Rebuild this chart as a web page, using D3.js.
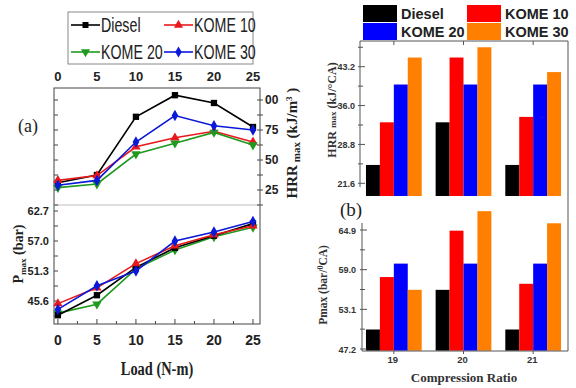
<!DOCTYPE html>
<html>
<head>
<meta charset="utf-8">
<script src="https://cdn.jsdelivr.net/npm/d3@7"></script>
<style>
  body { margin: 0; background: #fff; }
  svg { display: block; }
</style>
</head>
<body>
<div id="chart"></div>
<script>
// ---- data ----
var loads = [0, 5, 10, 15, 20, 25];
var seriesNames = ["Diesel", "KOME 10", "KOME 20", "KOME 30"];

var hrrDiesel = [31, 37.5, 86, 104, 97.5, 77.5];
var hrrKome10 = [33, 37, 61, 68.5, 74, 65];
var hrrKome20 = [27, 30, 55, 64, 73, 62.5];
var hrrKome30 = [29, 33, 65, 87, 78.5, 75];

var pmaxDiesel = [42.9, 46.7, 52.0, 55.7, 58.0, 60.3];
var pmaxKome10 = [45.1, 48.1, 52.7, 56.1, 58.2, 59.9];
var pmaxKome20 = [43.3, 45.0, 51.7, 55.3, 57.8, 59.6];
var pmaxKome30 = [44.0, 48.5, 51.3, 57.0, 58.7, 60.7];

var ratios = ["19", "20", "21"];
var hrrBarDiesel = [25.0, 32.9, 25.0];
var hrrBarKome10 = [32.9, 44.9, 33.9];
var hrrBarKome20 = [39.9, 39.9, 39.9];
var hrrBarKome30 = [44.9, 46.8, 42.2];
var pBarDiesel = [50.1, 56.0, 50.1];
var pBarKome10 = [57.9, 64.8, 56.9];
var pBarKome20 = [59.9, 59.9, 59.9];
var pBarKome30 = [56.0, 67.7, 65.9];

var hrrLineTicks = [25, 50, 75, 100];
var hrrLineTickLabels = ["25", "50", "75", "00"];
var pmaxLineTicks = [45.6, 51.3, 57.0, 62.7];
var hrrBarTicks = [21.6, 28.8, 36.0, 43.2];
var pBarTicks = [47.2, 53.1, 59.0, 64.9];

var lineColors = ["#000000", "#e8191c", "#1f9a1f", "#0a18d8"];
var barColors = ["#000000", "#ff0000", "#0000ff", "#ff8000"];
var markers = [d3.symbolSquare, d3.symbolTriangle, d3.symbolTriangle, d3.symbolDiamond];

var svg = d3.select("#chart").append("svg")
  .attr("width", 576)
  .attr("height", 388);

var narrow = "'Liberation Sans Narrow', 'Arial Narrow', sans-serif";
var serif = "'Liberation Serif', 'Times New Roman', serif";
var sans = "'Liberation Sans', Arial, sans-serif";

// =============== panel (a) ===============
var aLeft = 54, aRight = 260, aTop = 88, aMid = 205, aBottom = 324;

var x = d3.scaleLinear().domain([-0.5, 25.9]).range([aLeft, aRight]);
var yHrr = d3.scaleLinear().domain([25, 100]).range([190, 100]);
var yP = d3.scaleLinear().domain([45.6, 62.7]).range([301, 211]);

var pa = svg.append("g");

// frames
pa.append("rect").attr("x", aLeft).attr("y", aTop)
  .attr("width", aRight - aLeft).attr("height", aBottom - aTop)
  .attr("fill", "none").attr("stroke", "#444").attr("stroke-width", 1);
pa.append("line").attr("x1", aLeft).attr("x2", aRight).attr("y1", aMid).attr("y2", aMid)
  .attr("stroke", "#bbb").attr("stroke-width", 1);

// ticks - top panel (left inside, right crossing the frame)
var hrrMinor = d3.range(12.5, 110, 12.5);
pa.selectAll(".tl").data(hrrMinor).enter().append("line")
  .attr("x1", aLeft).attr("x2", aLeft + 4)
  .attr("y1", d => yHrr(d)).attr("y2", d => yHrr(d))
  .attr("stroke", "#444");
pa.selectAll(".tr").data(hrrMinor).enter().append("line")
  .attr("x1", aRight - 3).attr("x2", aRight + 3)
  .attr("y1", d => yHrr(d)).attr("y2", d => yHrr(d))
  .attr("stroke", "#444");

// ticks - bottom panel
var pMinor = d3.range(42.75, 63.5, 2.85);
pa.selectAll(".pl").data(pMinor).enter().append("line")
  .attr("x1", aLeft).attr("x2", aLeft + 4)
  .attr("y1", d => yP(d)).attr("y2", d => yP(d))
  .attr("stroke", "#444");
pa.selectAll(".bx").data(d3.range(0, 25.1, 2.5)).enter().append("line")
  .attr("x1", d => x(d)).attr("x2", d => x(d))
  .attr("y1", aBottom).attr("y2", (d, i) => aBottom - (i % 2 ? 3 : 5))
  .attr("stroke", "#444");

// tick labels
pa.selectAll(".topx").data(loads).enter().append("text")
  .attr("x", d => x(d)).attr("y", 81)
  .attr("text-anchor", "middle")
  .attr("font-family", narrow).attr("font-weight", "bold").attr("font-size", 13)
  .attr("fill", "#222").text(d => d);
pa.selectAll(".botx").data(loads).enter().append("text")
  .attr("x", d => x(d)).attr("y", 345)
  .attr("text-anchor", "middle")
  .attr("font-family", narrow).attr("font-weight", "bold").attr("font-size", 14)
  .attr("fill", "#222").text(d => d);
pa.selectAll(".ry").data(hrrLineTicks).enter().append("text")
  .attr("x", 265).attr("y", d => yHrr(d) + 4)
  .attr("font-family", narrow).attr("font-weight", "bold").attr("font-size", 12)
  .attr("fill", "#222").text((d, i) => hrrLineTickLabels[i]);
pa.selectAll(".ly").data(pmaxLineTicks).enter().append("text")
  .attr("x", 49).attr("y", d => yP(d) + 4)
  .attr("text-anchor", "end")
  .attr("font-family", narrow).attr("font-weight", "bold").attr("font-size", 11)
  .attr("fill", "#222").text(d => d.toFixed(1));

// series
var hrrSeries = [hrrDiesel, hrrKome10, hrrKome20, hrrKome30];
var pSeries = [pmaxDiesel, pmaxKome10, pmaxKome20, pmaxKome30];

function drawSeries(g, vals, yScale, i) {
  var line = d3.line().x((d, j) => x(loads[j])).y(d => yScale(d));
  g.append("path").datum(vals).attr("d", line)
    .attr("fill", "none").attr("stroke", lineColors[i]).attr("stroke-width", 1.6);
  g.selectAll(null).data(vals).enter().append("path")
    .attr("d", d3.symbol().type(markers[i]).size(i === 0 ? 40 : 38))
    .attr("transform", (d, j) => "translate(" + x(loads[j]) + "," + yScale(d) + ")" + (i === 2 ? " rotate(180)" : ""))
    .attr("fill", lineColors[i]);
}
[0, 1, 2, 3].forEach(function(i) {
  drawSeries(pa, hrrSeries[i], yHrr, i);
});
[2, 0, 1, 3].forEach(function(i) {
  drawSeries(pa, pSeries[i], yP, i);
});

// axis titles
pa.append("text").attr("transform", "translate(157,375) scale(0.9,1.15)").attr("text-anchor", "middle")
  .attr("font-family", serif).attr("font-weight", "bold").attr("font-size", 16)
  .attr("fill", "#222").text("Load (N-m)");

var pLab = pa.append("text").attr("transform", "translate(23,254) rotate(-90)")
  .attr("text-anchor", "middle")
  .attr("font-family", serif).attr("font-weight", "bold").attr("font-size", 14)
  .attr("fill", "#222");
pLab.append("tspan").text("P");
pLab.append("tspan").attr("font-size", 9).attr("dy", 3).text("max");
pLab.append("tspan").attr("dy", -3).text(" (bar)");

var hLab = pa.append("text").attr("transform", "translate(297,143) rotate(-90)")
  .attr("text-anchor", "middle")
  .attr("font-family", serif).attr("font-weight", "bold").attr("font-size", 15)
  .attr("fill", "#222");
hLab.append("tspan").text("HRR");
hLab.append("tspan").attr("font-size", 11).attr("dy", 3).text(" max");
hLab.append("tspan").attr("dy", -3).text(" (kJ/m");
hLab.append("tspan").attr("font-size", 9).attr("dy", -5).text("3");
hLab.append("tspan").attr("dy", 5).text(" )");

pa.append("text").attr("x", 18).attr("y", 132)
  .attr("font-family", serif).attr("font-size", 18).attr("fill", "#222").text("(a)");

// legend (a)
pa.append("rect").attr("x", 68).attr("y", 12).attr("width", 185).attr("height", 52)
  .attr("fill", "#fff").attr("stroke", "#888").attr("stroke-width", 1);
var legPos = [[71, 25], [164, 25], [71, 52], [164, 52]];
seriesNames.forEach(function(name, i) {
  var lx = legPos[i][0], ly = legPos[i][1];
  pa.append("line").attr("x1", lx).attr("x2", lx + 29).attr("y1", ly).attr("y2", ly)
    .attr("stroke", lineColors[i]).attr("stroke-width", 1.6);
  pa.append("path").attr("d", d3.symbol().type(markers[i]).size(36))
    .attr("transform", "translate(" + (lx + 14.5) + "," + ly + ")" + (i === 2 ? " rotate(180)" : ""))
    .attr("fill", lineColors[i]);
  pa.append("text").attr("transform", "translate(" + (lx + 30) + "," + (ly + 7) + ") scale(0.95,1.3)")
    .attr("font-family", narrow).attr("font-size", 15).attr("fill", "#222").text(name);
});

// =============== panel (b) ===============
var bLeft = 360, bRight = 568, bTop = 41, bBottom = 351;
var x0 = d3.scaleBand().domain(ratios).range([359, 568]).paddingInner(0.2).paddingOuter(0.1);
var x1 = d3.scaleBand().domain(seriesNames).range([0, x0.bandwidth()]);
var yHb = d3.scaleLinear().domain([21.6, 43.2]).range([183.3, 66.7]);
var yPb = d3.scaleLinear().domain([47.2, 64.9]).range([349, 230]);

var pb = svg.append("g");

var hrrBars = [hrrBarDiesel, hrrBarKome10, hrrBarKome20, hrrBarKome30];
var pBars = [pBarDiesel, pBarKome10, pBarKome20, pBarKome30];

function drawBars(vals, yScale, base) {
  vals.forEach(function(arr, i) {
    pb.selectAll(null).data(arr).enter().append("rect")
      .attr("x", (d, j) => x0(ratios[j]) + x1(seriesNames[i]))
      .attr("width", x1.bandwidth())
      .attr("y", d => yScale(d))
      .attr("height", d => yScale(base) - yScale(d))
      .attr("fill", barColors[i]);
  });
}
drawBars(hrrBars, yHb, 19.25);
drawBars(pBars, yPb, 46.95);

// frame lines
var fr = "#555";
pb.append("line").attr("x1", bLeft).attr("x2", bRight).attr("y1", bTop).attr("y2", bTop).attr("stroke", fr);
pb.append("line").attr("x1", bRight).attr("x2", bRight).attr("y1", bTop).attr("y2", bBottom).attr("stroke", fr);
pb.append("line").attr("x1", bLeft).attr("x2", bLeft).attr("y1", bTop).attr("y2", yHb(20.9)).attr("stroke", fr);
pb.append("line").attr("x1", 362).attr("x2", 362).attr("y1", yPb(65.95)).attr("y2", bBottom).attr("stroke", fr);
pb.append("line").attr("x1", 362).attr("x2", bRight).attr("y1", bBottom).attr("y2", bBottom).attr("stroke", fr);

// ticks (b)
pb.selectAll(null).data(d3.range(21.6, 47.5, 3.6)).enter().append("line")
  .attr("x1", bLeft - 2).attr("x2", (d, i) => bLeft + (i % 2 ? 3 : 5))
  .attr("y1", d => yHb(d)).attr("y2", d => yHb(d)).attr("stroke", fr);
pb.selectAll(null).data(d3.range(47.2, 66, 2.95)).enter().append("line")
  .attr("x1", 360).attr("x2", (d, i) => 362 + (i % 2 ? 3 : 5))
  .attr("y1", d => yPb(d)).attr("y2", d => yPb(d)).attr("stroke", fr);
pb.selectAll(null).data(ratios).enter().append("line")
  .attr("x1", d => x0(d) + x0.bandwidth() / 2).attr("x2", d => x0(d) + x0.bandwidth() / 2)
  .attr("y1", bTop).attr("y2", bTop + 4).attr("stroke", fr);
pb.selectAll(null).data(ratios).enter().append("line")
  .attr("x1", d => x0(d) + x0.bandwidth() / 2).attr("x2", d => x0(d) + x0.bandwidth() / 2)
  .attr("y1", bBottom).attr("y2", bBottom + 3).attr("stroke", fr);

// tick labels (b)
pb.selectAll(null).data(hrrBarTicks).enter().append("text")
  .attr("x", 355).attr("y", d => yHb(d) + 3.5).attr("text-anchor", "end")
  .attr("font-family", sans).attr("font-weight", "bold").attr("font-size", 9)
  .attr("fill", "#333").text(d => d.toFixed(1));
pb.selectAll(null).data(pBarTicks).enter().append("text")
  .attr("x", 356).attr("y", d => yPb(d) + 3.5).attr("text-anchor", "end")
  .attr("font-family", sans).attr("font-weight", "bold").attr("font-size", 9)
  .attr("fill", "#333").text(d => d.toFixed(1));
pb.selectAll(null).data(ratios).enter().append("text")
  .attr("x", d => x0(d) + x0.bandwidth() / 2 - 1).attr("y", 363).attr("text-anchor", "middle")
  .attr("font-family", sans).attr("font-weight", "bold").attr("font-size", 9.5)
  .attr("fill", "#333").text(d => d);

pb.append("text").attr("x", 464).attr("y", 382).attr("text-anchor", "middle")
  .attr("font-family", serif).attr("font-weight", "bold").attr("font-size", 13)
  .attr("fill", "#333").text("Compression Ratio");

var hb = pb.append("text").attr("transform", "translate(336,110) rotate(-90)")
  .attr("text-anchor", "middle")
  .attr("font-family", serif).attr("font-weight", "bold").attr("font-size", 12)
  .attr("fill", "#333");
hb.append("tspan").text("HRR ");
hb.append("tspan").attr("font-size", 9).text("max");
hb.append("tspan").text(" (kJ/°CA)");

var pbl = pb.append("text").attr("transform", "translate(327,285) rotate(-90)")
  .attr("text-anchor", "middle")
  .attr("font-family", serif).attr("font-weight", "bold").attr("font-size", 11.5)
  .attr("fill", "#333");
pbl.append("tspan").text("Pmax (bar/");
pbl.append("tspan").attr("font-size", 8).attr("dy", -4).text("0");
pbl.append("tspan").attr("dy", 4).text("CA)");

pb.append("text").attr("x", 340).attr("y", 216)
  .attr("font-family", serif).attr("font-size", 19).attr("fill", "#222").text("(b)");

// legend (b)
var bLegPos = [[363, 5], [467, 5], [363, 23], [467, 23]];
seriesNames.forEach(function(name, i) {
  var lx = bLegPos[i][0], ly = bLegPos[i][1];
  pb.append("rect").attr("x", lx).attr("y", ly).attr("width", 34).attr("height", 17)
    .attr("fill", barColors[i]);
  pb.append("text").attr("x", lx + 38).attr("y", ly + 14)
    .attr("font-family", sans).attr("font-weight", "bold").attr("font-size", 14.5)
    .attr("fill", "#222").text(name);
});
</script>
</body>
</html>
